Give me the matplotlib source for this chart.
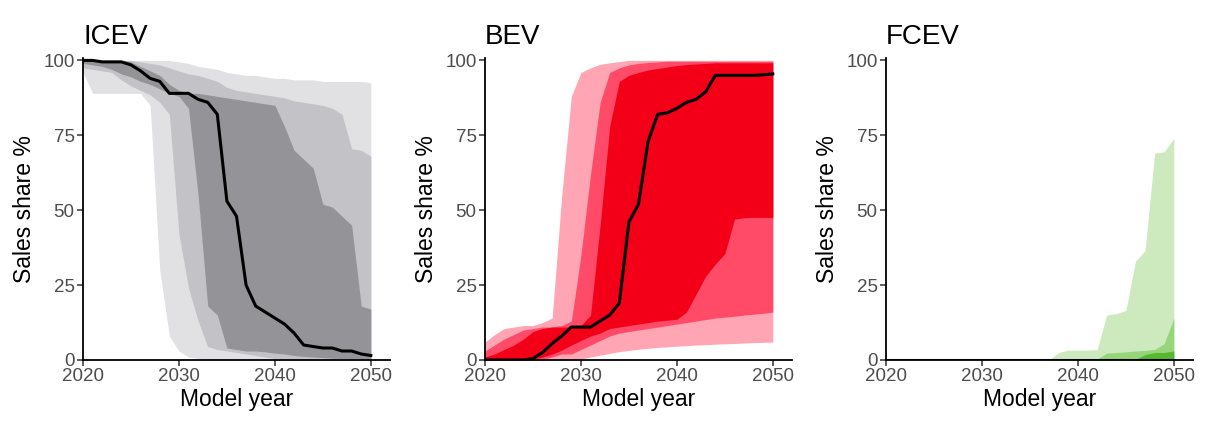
import numpy as np
import matplotlib
matplotlib.use("Agg")
import matplotlib.pyplot as plt

plt.rcParams['font.family'] = ['Liberation Sans', 'DejaVu Sans']

years = list(range(2020, 2051))

# ---------------- ICEV ----------------
icev_light_hi = [100, 100, 100, 100, 100, 100, 100, 100, 100, 100, 99.5, 99, 98, 97.5, 97, 96,
                 95.5, 95, 95, 94.5, 94, 94, 93.5, 93.5, 93.5, 93, 93, 93, 93, 93, 92.5]
icev_light_lo = [96, 89, 89, 89, 89, 89, 89, 85, 30, 8, 3, 1, 0.5, 0, 0, 0,
                 0, 0, 0, 0, 0, 0, 0, 0, 0, 0, 0, 0, 0, 0, 0]
icev_mid_hi = [100, 100, 100, 100, 100, 100, 99.5, 99, 98.5, 97.5, 96.5, 95.5, 95, 94, 93, 91,
               90, 89.5, 89, 88.5, 88, 87.5, 86.5, 86, 85.5, 85, 84, 82, 70.5, 70, 68]
icev_mid_lo = [97.5, 97, 96.5, 96, 93.5, 91.5, 90, 88.5, 86, 82, 42, 24, 13, 4.5, 3.5, 3,
               2.5, 2, 1.5, 1, 0.5, 0.3, 0, 0, 0, 0, 0, 0, 0, 0, 0]
icev_dark_hi = [100, 100, 100, 100, 100, 99.5, 98, 96.5, 95, 92, 90, 89, 89, 88.5, 88, 87.5,
                87, 86.5, 86, 85.5, 85, 78, 70, 67, 64, 52, 51, 48, 45, 18, 17]
icev_dark_lo = [99, 98.5, 98, 97, 95.5, 94.5, 93, 92, 90.5, 89, 88, 84, 55, 18, 15, 4,
                3.5, 3, 3, 2.7, 2.3, 2, 1.5, 1.2, 1, 0.8, 0.6, 0.5, 0.4, 0.2, 0]
icev_median = [100, 100, 99.5, 99.5, 99.5, 98.5, 96.5, 94, 93, 89, 89, 89, 87, 86, 82, 53,
               48, 25, 18, 16, 14, 12, 9, 5, 4.5, 4, 4, 3, 3, 2, 1.5]

# ---------------- BEV ----------------
bev_light_hi = [6, 8.5, 10.5, 11, 11.5, 11.5, 12.5, 14, 55, 88, 96, 97.5, 98.7, 99.2, 99.6, 100,
                100, 100, 100, 100, 100, 100, 100, 100, 100, 100, 100, 100, 100, 100, 100]
bev_light_lo = [0, 0, 0, 0, 0, 0, 0, 0, 0, 0, 0.3, 1, 1.6, 2.2, 2.8, 3.2,
                3.6, 3.9, 4.2, 4.4, 4.6, 4.8, 5, 5.1, 5.3, 5.4, 5.5, 5.7, 5.8, 5.9, 6]
bev_mid_hi = [3, 5, 7, 8.5, 10, 10.5, 11, 11, 11.5, 13, 35, 62, 86, 96, 97.5, 98.5,
              99, 99.3, 99.5, 99.7, 99.7, 99.7, 99.7, 99.7, 99.7, 99.7, 99.7, 99.7, 99.7, 99.7, 99.7]
bev_mid_lo = [0, 0, 0, 0, 0, 0, 0.3, 1, 2, 2, 3.5, 5, 6.5, 8, 9, 9.5,
              10, 10.5, 11, 11.5, 12, 12.5, 13, 13.5, 14, 14.3, 14.6, 15, 15.3, 15.6, 16]
bev_dark_hi = [1, 2, 3.5, 5, 7, 9.5, 10.5, 11, 11, 11, 11.5, 15, 45, 78, 93, 95,
               96, 96.8, 97.3, 97.8, 98.3, 98.6, 98.8, 99, 99.2, 99.2, 99.2, 99.2, 99.2, 99.2, 99.2]
bev_dark_lo = [0, 0, 0, 0, 0, 0.2, 1, 2, 3.3, 5, 6.5, 8, 9, 10.5, 11, 11.5,
               12, 12.5, 13, 13.3, 13.6, 16, 22, 28, 32, 35.5, 47, 47.5, 47.6, 47.6, 47.6]
bev_median = [0, 0, 0, 0, 0, 0.5, 2.5, 5.5, 8, 11, 11, 11, 13, 15, 19, 46,
              52, 73, 82, 82.5, 84, 86, 87, 89.5, 95, 95, 95, 95, 95, 95.2, 95.5]

# ---------------- FCEV ----------------
fcev_light_hi = [0] * 18 + [2.5, 3.3, 3.3, 3.3, 3.5, 15, 15.5, 16.5, 33, 36.5, 69, 69.5, 74]
fcev_mid_hi = [0] * 22 + [0.3, 2.3, 2.5, 2.7, 3, 3.2, 3.5, 5.5, 14]
fcev_dark_hi = [0] * 26 + [0.2, 1.8, 2.5, 2.5, 3]
fcev_lo = [0] * 31
fcev_median = [0] * 31

titles = ["ICEV", "BEV", "FCEV"]
xticks = [2020, 2030, 2040, 2050]
yticks = [0, 25, 50, 75, 100]

panels = [
    dict(bands=[(icev_light_lo, icev_light_hi, '#e1e1e4'),
                (icev_mid_lo, icev_mid_hi, '#c3c3c7'),
                (icev_dark_lo, icev_dark_hi, '#949498')],
         median=icev_median),
    dict(bands=[(bev_light_lo, bev_light_hi, '#ffa5b3'),
                (bev_mid_lo, bev_mid_hi, '#ff4b68'),
                (bev_dark_lo, bev_dark_hi, '#f30018')],
         median=bev_median),
    dict(bands=[(fcev_lo, fcev_light_hi, '#cdeabf'),
                (fcev_lo, fcev_mid_hi, '#97d57a'),
                (fcev_lo, fcev_dark_hi, '#55b82e')],
         median=fcev_median),
]

W, H = 1214, 428
fig = plt.figure(figsize=(W / 100, H / 100), dpi=100)
lefts = [83, 485, 886]
ax_w = 307
ax_bottom = 360
ax_top = 58

for i, (p, title) in enumerate(zip(panels, titles)):
    ax = fig.add_axes([lefts[i] / W, 1 - ax_bottom / H, ax_w / W, (ax_bottom - ax_top) / H])
    for lo, hi, col in p['bands']:
        ax.fill_between(years, lo, hi, color=col, linewidth=0)
    ax.plot(years, p['median'], color='black', lw=2.2, solid_joinstyle='round', zorder=3)
    ax.set_xlim(2020, 2052)
    ax.set_ylim(0, 100.8)
    ax.set_xticks(xticks)
    ax.set_yticks(yticks)
    for s in ['top', 'right']:
        ax.spines[s].set_visible(False)
    for s in ['left', 'bottom']:
        ax.spines[s].set_linewidth(1.3)
        ax.spines[s].set_color('black')
        ax.spines[s].set_zorder(4)
    ax.tick_params(axis='both', direction='out', length=4, width=1.1, color='#333333',
                   labelsize=13.5, labelcolor='#4d4d4d', pad=2)
    ax.set_xlabel('Model year', fontsize=16.5, color='black', labelpad=2)
    ax.set_ylabel('Sales share %', fontsize=16.5, color='black', labelpad=5)
    ax.set_title(title, loc='left', fontsize=20, pad=10, x=0.0)
    ax.patch.set_alpha(0)

fig.savefig('out.png', dpi=100)
